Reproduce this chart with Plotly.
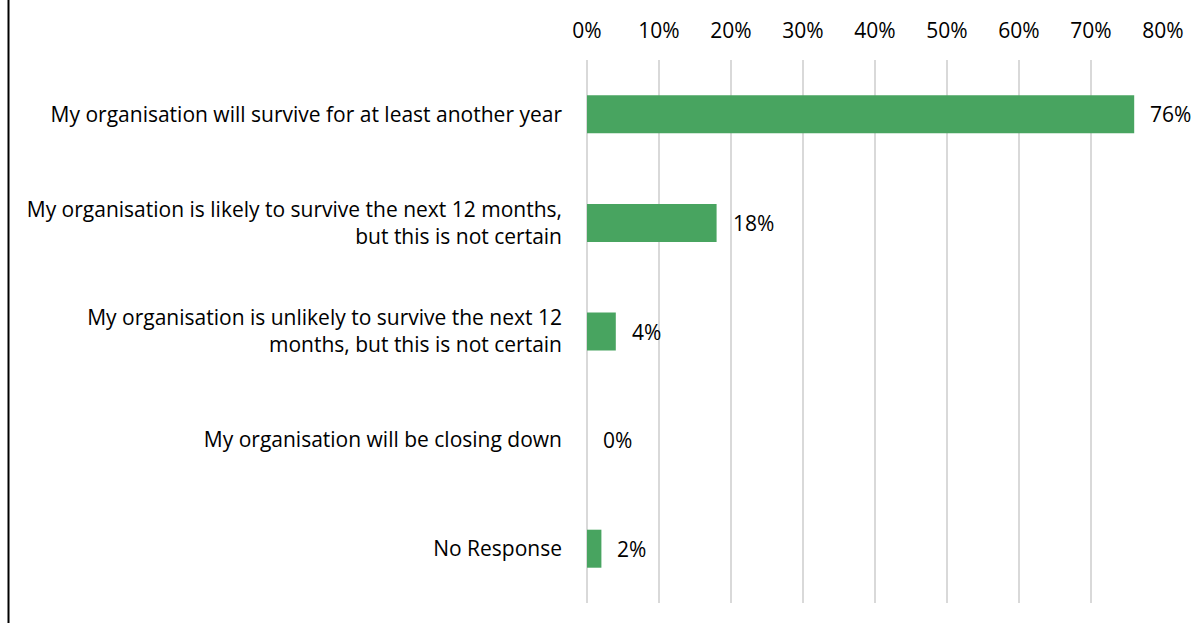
import plotly.graph_objects as go

categories = [
    "My organisation will survive for at least another year",
    "My organisation is likely to survive the next 12 months,<br>but this is not certain",
    "My organisation is unlikely to survive the next 12<br>months, but this is not certain",
    "My organisation will be closing down",
    "No Response",
]
shares = [0.76, 0.18, 0.04, 0.0, 0.02]
share_labels = ["76%", "18%", "4%", "0%", "2%"]
tick_values = [0, 0.1, 0.2, 0.3, 0.4, 0.5, 0.6, 0.7, 0.8]
tick_labels = ["0%", "10%", "20%", "30%", "40%", "50%", "60%", "70%", "80%"]

W, H = 1201, 623
L, R, T, B = 587, 38, 60, 20
FONT = "Open Sans"
SIZE = 21

fig = go.Figure()
fig.add_trace(go.Bar(
    x=shares, y=categories, orientation="h",
    marker=dict(color="#48A460", line=dict(width=0)),
    hoverinfo="skip",
))

for v, c, t in zip(shares, categories, share_labels):
    fig.add_annotation(x=v, y=c, text=t, showarrow=False, xanchor="left",
                       xshift=14, font=dict(family=FONT, size=SIZE, color="#000000"))

# left frame line
fig.add_shape(type="line", xref="paper", yref="paper",
              x0=(8.5 - L) / (W - L - R), x1=(8.5 - L) / (W - L - R),
              y0=-0.1, y1=1.2, line=dict(color="#000000", width=2))

fig.update_layout(
    width=W, height=H,
    margin=dict(l=L, r=R, t=T, b=B, pad=0),
    paper_bgcolor="white", plot_bgcolor="white",
    showlegend=False, bargap=0.65,
    font=dict(family=FONT, size=SIZE, color="#000000"),
    xaxis=dict(side="top", range=[0, 0.8], tickvals=tick_values, ticktext=tick_labels,
               showgrid=True, gridcolor="#D9D9D9", gridwidth=1.5,
               zeroline=True, zerolinecolor="#D9D9D9", zerolinewidth=1.5,
               showline=False, ticks="", ticklabelstandoff=17,
               tickfont=dict(family=FONT, size=SIZE, color="#000000")),
    yaxis=dict(autorange="reversed", showgrid=False, zeroline=False, showline=False,
               ticks="", ticklabelstandoff=24,
               tickfont=dict(family=FONT, size=SIZE, color="#000000")),
)

fig.write_html("out.html")
